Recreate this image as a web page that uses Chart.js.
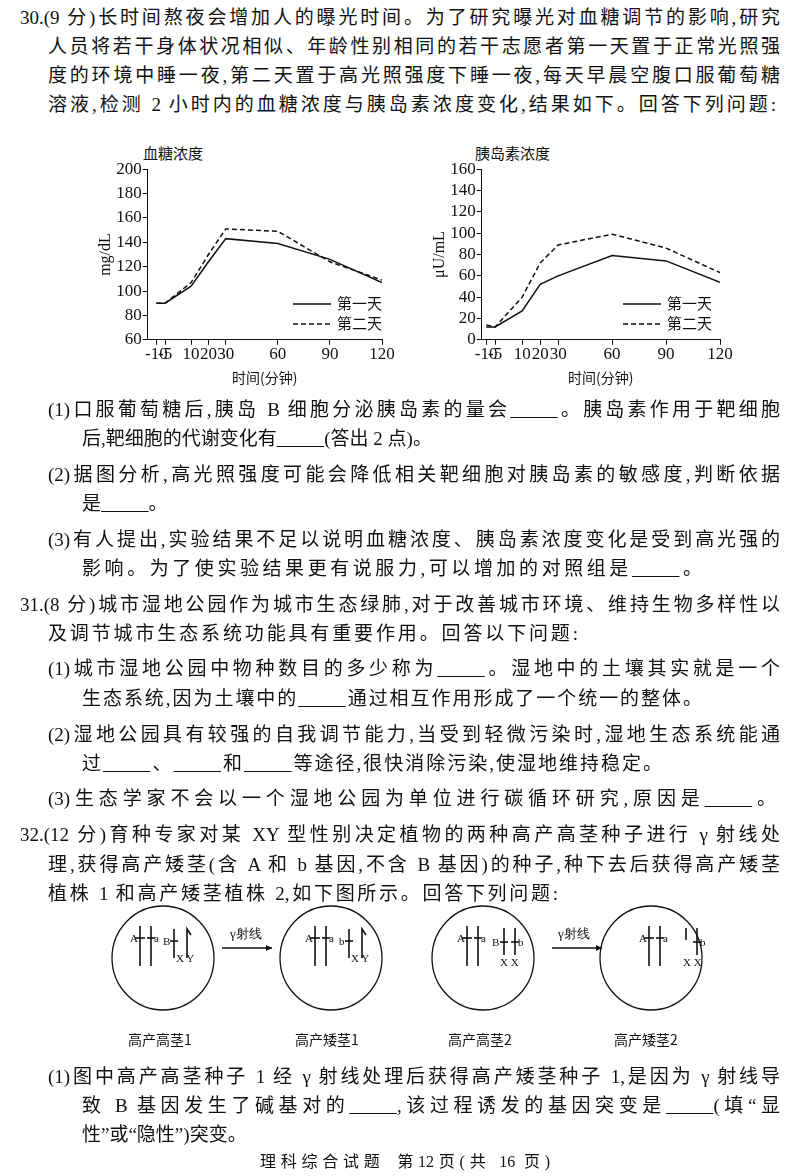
<!DOCTYPE html>
<html><head><meta charset="utf-8">
<script src="https://cdn.jsdelivr.net/npm/chart.js@4"></script>
<style>
body{margin:0;width:800px;height:1176px;background:#fff;position:relative;font-family:"Liberation Serif","Noto Sans CJK SC",serif;color:#111;overflow:hidden}
.l{position:absolute;font-size:19px;line-height:24px;white-space:nowrap;text-align:justify;text-align-last:justify}
.c{position:absolute}
.t{position:absolute;font-size:15px;font-family:"Noto Sans CJK SC",sans-serif}
</style></head><body>
<div class="l" style="left:20px;top:6px;width:760px">30.(9 分)长时间熬夜会增加人的曝光时间。为了研究曝光对血糖调节的影响,研究</div>
<div class="l" style="left:48px;top:35px;width:732px">人员将若干身体状况相似、年龄性别相同的若干志愿者第一天置于正常光照强</div>
<div class="l" style="left:48px;top:64px;width:732px">度的环境中睡一夜,第二天置于高光照强度下睡一夜,每天早晨空腹口服葡萄糖</div>
<div class="l" style="left:48px;top:93px;width:728px">溶液,检测 2 小时内的血糖浓度与胰岛素浓度变化,结果如下。回答下列问题:</div>

<div class="t" style="left:143px;top:142px">血糖浓度</div>
<div class="t" style="left:475px;top:142px">胰岛素浓度</div>
<div class="c" style="left:96px;top:158px;width:320px;height:232px"><canvas id="c1"></canvas></div>
<div class="c" style="left:430px;top:158px;width:320px;height:232px"><canvas id="c2"></canvas></div>

<svg class="c" style="left:0;top:0" width="800" height="1176">
 <g font-family="Noto Sans CJK SC" font-size="15" fill="#111">
  <line x1="293" y1="304" x2="331" y2="304" stroke="#111" stroke-width="1.5"/><text x="337" y="309">第一天</text>
  <line x1="293" y1="324" x2="331" y2="324" stroke="#111" stroke-width="1.5" stroke-dasharray="5,3"/><text x="337" y="329">第二天</text>
  <line x1="623" y1="304" x2="661" y2="304" stroke="#111" stroke-width="1.5"/><text x="667" y="309">第一天</text>
  <line x1="623" y1="324" x2="661" y2="324" stroke="#111" stroke-width="1.5" stroke-dasharray="5,3"/><text x="667" y="329">第二天</text>
 </g>
 <g stroke="#111" fill="none" stroke-width="1.3">
  <ellipse cx="163" cy="958" rx="51" ry="52"/>
  <ellipse cx="331" cy="958" rx="51" ry="52"/>
  <ellipse cx="483" cy="958" rx="51" ry="52"/>
  <ellipse cx="651" cy="958" rx="51" ry="52"/>
  <line x1="222" y1="948" x2="272" y2="948"/><line x1="552" y1="948" x2="602" y2="948"/>
 </g>
 <g fill="#111"><path d="M272 948 l-6 -3 v6z"/><path d="M602 948 l-6 -3 v6z"/></g>
 <g font-family="Liberation Serif" font-size="13" fill="#111">
  <text x="230" y="938">γ射线</text><text x="558" y="938">γ射线</text>
 </g>
 <g stroke="#111" stroke-width="1.6" fill="none">
  <line x1="140" y1="926" x2="140" y2="966"/><line x1="151" y1="926" x2="151" y2="966"/>
  <line x1="135" y1="938" x2="145" y2="938"/><line x1="147" y1="938" x2="155" y2="938"/>
  <line x1="174" y1="929" x2="174" y2="958"/><line x1="170" y1="941" x2="178" y2="941"/>
  <path d="M187 958 V929 l4 6"/>
  <line x1="315" y1="926" x2="315" y2="966"/><line x1="326" y1="926" x2="326" y2="966"/>
  <line x1="310" y1="938" x2="320" y2="938"/><line x1="322" y1="938" x2="330" y2="938"/>
  <line x1="349" y1="929" x2="349" y2="958"/><line x1="345" y1="941" x2="353" y2="941"/>
  <path d="M362 958 V929 l4 6"/>
  <line x1="467" y1="926" x2="467" y2="966"/><line x1="478" y1="926" x2="478" y2="966"/>
  <line x1="462" y1="938" x2="472" y2="938"/><line x1="474" y1="938" x2="482" y2="938"/>
  <line x1="504" y1="928" x2="504" y2="955"/><line x1="515" y1="928" x2="515" y2="955"/>
  <line x1="500" y1="942" x2="508" y2="942"/><line x1="511" y1="942" x2="519" y2="942"/>
  <line x1="686" y1="928" x2="686" y2="940"/><line x1="697" y1="928" x2="697" y2="955"/>
  <line x1="649" y1="926" x2="649" y2="966"/><line x1="660" y1="926" x2="660" y2="966"/>
  <line x1="644" y1="938" x2="654" y2="938"/><line x1="656" y1="938" x2="664" y2="938"/>
  <line x1="693" y1="942" x2="701" y2="942"/>
 </g>
 <g font-family="Liberation Serif" font-size="11" fill="#111">
  <text x="130" y="942">A</text><text x="154" y="942">a</text><text x="163" y="945">B</text><text x="176" y="962">X Y</text>
  <text x="305" y="942">A</text><text x="329" y="942">a</text><text x="339" y="945">b</text><text x="351" y="962">X Y</text>
  <text x="457" y="942">A</text><text x="481" y="942">a</text><text x="492" y="946">B</text><text x="518" y="946">b</text><text x="500" y="966">X X</text>
  <text x="639" y="942">A</text><text x="663" y="942">a</text><text x="700" y="946">b</text><text x="683" y="966">X X</text>
 </g>
 <g font-family="Noto Sans CJK SC" font-size="14" fill="#111">
  <text x="128" y="1045">高产高茎1</text><text x="295" y="1045">高产矮茎1</text>
  <text x="448" y="1045">高产高茎2</text><text x="614" y="1045">高产矮茎2</text>
 </g>
</svg>

<div class="l" style="left:48px;top:398px;width:732px">(1)口服葡萄糖后,胰岛 B 细胞分泌胰岛素的量会<u>&emsp;&emsp;&ensp;</u>。胰岛素作用于靶细胞</div>
<div class="l" style="left:82px;top:427px;width:400px;text-align-last:left">后,靶细胞的代谢变化有<u>&emsp;&emsp;&ensp;</u>(答出 2 点)。</div>
<div class="l" style="left:48px;top:463px;width:732px">(2)据图分析,高光照强度可能会降低相关靶细胞对胰岛素的敏感度,判断依据</div>
<div class="l" style="left:82px;top:492px;width:200px;text-align-last:left">是<u>&emsp;&emsp;&ensp;</u>。</div>
<div class="l" style="left:48px;top:528px;width:732px">(3)有人提出,实验结果不足以说明血糖浓度、胰岛素浓度变化是受到高光强的</div>
<div class="l" style="left:82px;top:557px;width:620px">影响。为了使实验结果更有说服力,可以增加的对照组是<u>&emsp;&emsp;&ensp;</u>。</div>
<div class="l" style="left:20px;top:593px;width:760px">31.(8 分)城市湿地公园作为城市生态绿肺,对于改善城市环境、维持生物多样性以</div>
<div class="l" style="left:48px;top:622px;width:530px">及调节城市生态系统功能具有重要作用。回答以下问题:</div>
<div class="l" style="left:48px;top:657px;width:732px">(1)城市湿地公园中物种数目的多少称为<u>&emsp;&emsp;&ensp;</u>。湿地中的土壤其实就是一个</div>
<div class="l" style="left:82px;top:687px;width:620px">生态系统,因为土壤中的<u>&emsp;&emsp;&ensp;</u>通过相互作用形成了一个统一的整体。</div>
<div class="l" style="left:48px;top:723px;width:732px">(2)湿地公园具有较强的自我调节能力,当受到轻微污染时,湿地生态系统能通</div>
<div class="l" style="left:82px;top:752px;width:580px">过<u>&emsp;&emsp;&ensp;</u>、<u>&emsp;&emsp;&ensp;</u>和<u>&emsp;&emsp;&ensp;</u>等途径,很快消除污染,使湿地维持稳定。</div>
<div class="l" style="left:48px;top:787px;width:728px">(3)生态学家不会以一个湿地公园为单位进行碳循环研究,原因是<u>&emsp;&emsp;&ensp;</u>。</div>
<div class="l" style="left:20px;top:823px;width:760px">32.(12 分)育种专家对某 XY 型性别决定植物的两种高产高茎种子进行 γ 射线处</div>
<div class="l" style="left:48px;top:853px;width:732px">理,获得高产矮茎(含 A 和 b 基因,不含 B 基因)的种子,种下去后获得高产矮茎</div>
<div class="l" style="left:48px;top:882px;width:510px">植株 1 和高产矮茎植株 2,如下图所示。回答下列问题:</div>
<div class="l" style="left:48px;top:1065px;width:732px">(1)图中高产高茎种子 1 经 γ 射线处理后获得高产矮茎种子 1,是因为 γ 射线导</div>
<div class="l" style="left:82px;top:1094px;width:698px">致 B 基因发生了碱基对的<u>&emsp;&emsp;&ensp;</u>,该过程诱发的基因突变是<u>&emsp;&emsp;&ensp;</u>(填“显</div>
<div class="l" style="left:82px;top:1123px;width:200px;text-align-last:left">性”或“隐性”)突变。</div>
<div class="l" style="left:260px;top:1150px;width:290px;font-size:16px">理科综合试题&ensp;第12页(共 16 页)</div>

<script>
const timeTicks = [-10, -5, 10, 20, 30, 60, 90, 120];
const glucoseDay1 = [90, 90, 104, 124, 143, 139, 126, 107];
const glucoseDay2 = [90, 90, 107, 130, 151, 149, 124, 109];
const insulinDay1 = [12, 12, 27, 52, 60, 79, 74, 54];
const insulinDay2 = [14, 12, 40, 72, 89, 99, 86, 63];
const glucoseTicks = [60, 200, 20];
const insulinTicks = [0, 160, 20];

function mk(id, d1, d2, yr, ytitle, xmin, padR) {
  const font = {family: "Liberation Serif", size: 17};
  new Chart(document.getElementById(id), {
    type: 'line',
    data: {datasets: [
      {data: timeTicks.map((t,i)=>({x:t,y:d1[i]})), borderColor:'#111', borderWidth:1.5, pointRadius:0, tension:0},
      {data: timeTicks.map((t,i)=>({x:t,y:d2[i]})), borderColor:'#111', borderWidth:1.5, borderDash:[5,3], pointRadius:0, tension:0}
    ]},
    options: {
      animation:false, responsive:true, maintainAspectRatio:false,
      layout:{padding:{right:padR, top:4}},
      plugins:{legend:{display:false}, tooltip:{enabled:false}},
      scales:{
        x:{type:'linear', min:xmin, max:120,
          afterBuildTicks: ax => { ax.ticks = timeTicks.map(v=>({value:v})); },
          ticks:{autoSkip:false, maxRotation:0, color:'#111', font, padding:0},
          grid:{drawOnChartArea:false, color:'#111', tickLength:5},
          border:{color:'#111'},
          title:{display:true, text:'时间(分钟)', color:'#111', font:{family:"Noto Sans CJK SC", size:14}, padding:{top:4}}},
        y:{min:yr[0], max:yr[1],
          ticks:{stepSize:yr[2], autoSkip:false, color:'#111', font, padding:1},
          grid:{drawOnChartArea:false, color:'#111', tickLength:5},
          border:{color:'#111'},
          title:{display:true, text:ytitle, color:'#111', font:{family:"Liberation Serif", size:16}, padding:0}}
      }
    }
  });
}
mk('c1', glucoseDay1, glucoseDay2, glucoseTicks, 'mg/dL', -15, 34);
mk('c2', insulinDay1, insulinDay2, insulinTicks, 'μU/mL', -12.5, 30);
</script>
</body></html>
